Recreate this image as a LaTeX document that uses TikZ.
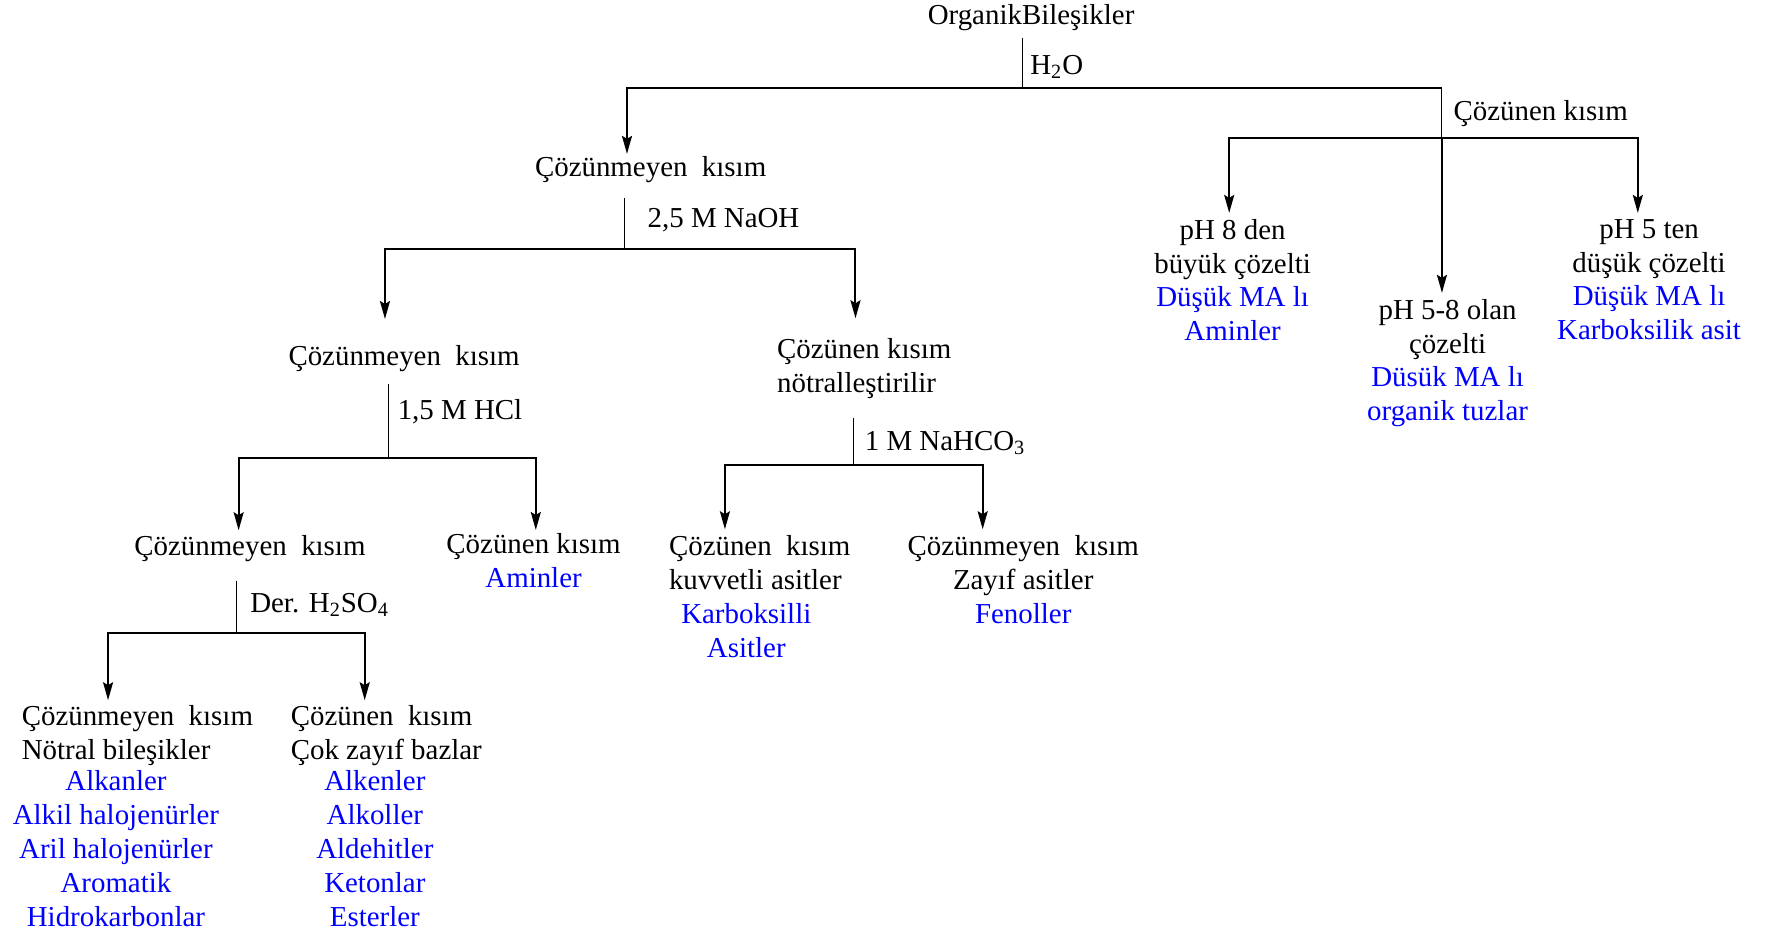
\documentclass[tikz,border=0pt]{standalone}
\usepackage{fontspec}
\setmainfont{Liberation Serif}
\usetikzlibrary{arrows.meta}
\newcommand{\treefont}{\fontsize{14.45pt}{16.9pt}\selectfont}
\tikzset{
  txt/.style={font=\treefont, inner sep=0pt, align=center},
  lbl/.style={font=\treefont, inner sep=0pt, anchor=base west},
  bar/.style={line width=1pt},
  stem/.style={line width=0.5pt},
  arr/.style={line width=1pt, -{Stealth[length=9pt,width=5pt,inset=1.5pt]}, shorten >=3pt},
}

\begin{document}
\begin{tikzpicture}[x=0.5628pt, y=-0.5628pt]
    \useasboundingbox (0,0) rectangle (1568,827);

    % Organik bilesikler
    \node[txt, anchor=north] (org) at (916,3.5) {OrganikBileşikler};
    \node[txt, anchor=north] (c1) at (578,138.5) {Çözünmeyen\ \ kısım};
    \node[lbl] (cz1) at (1291,107) {Çözünen kısım};

    % cozunen kisim, pH
    \node[txt, anchor=north] (ph8) at (1095,194.5) {pH 8 den\\büyük çözelti\\\textcolor{blue}{Düşük MA lı}\\\textcolor{blue}{Aminler}};
    \node[txt, anchor=north] (ph58) at (1286,265.5) {pH 5-8 olan\\çözelti\\\textcolor{blue}{Düsük MA lı}\\\textcolor{blue}{organik tuzlar}};
    \node[txt, anchor=north] (ph5) at (1465,194.5) {pH 5 ten\\düşük çözelti\\\textcolor{blue}{Düşük MA lı}\\\textcolor{blue}{Karboksilik asit}};

    % NaOH
    \node[txt, anchor=north] (c2) at (359,306.5) {Çözünmeyen\ \ kısım};
    \node[txt, align=left, anchor=north west] (cz2) at (690,300.5) {Çözünen kısım\\nötralleştirilir};

    % HCl
    \node[txt, anchor=north] (c3) at (222,475.5) {Çözünmeyen\ \ kısım};
    \node[txt, anchor=north] (cz3) at (474,473.5) {Çözünen kısım\\\textcolor{blue}{Aminler}};

    % NaHCO3
    \node[txt, align=left, anchor=north west] (cz4) at (594,475.5) {Çözünen\ \ kısım\\kuvvetli asitler};
    \node[txt, anchor=north, blue] (cz4b) at (663,535.5) {Karboksilli\\Asitler};
    \node[txt, anchor=north] (c4) at (909,475.5) {Çözünmeyen\ \ kısım\\Zayıf asitler\\\textcolor{blue}{Fenoller}};

    % H2SO4
    \node[txt, align=left, anchor=north west] (c5) at (19,626.5) {Çözünmeyen\ \ kısım\\Nötral bileşikler};
    \node[txt, anchor=north, blue] (c5b) at (103,684.5) {Alkanler\\Alkil halojenürler\\Aril halojenürler\\Aromatik\\Hidrokarbonlar};
    \node[txt, align=left, anchor=north west] (cz5) at (258,626.5) {Çözünen\ \ kısım\\Çok zayıf bazlar};
    \node[txt, anchor=north, blue] (cz5b) at (333,684.5) {Alkenler\\Alkoller\\Aldehitler\\Ketonlar\\Esterler};

    % H2O split
    \coordinate (j0) at (908,78);
    \coordinate (b0l) at (557,78);
    \coordinate (b0r) at (1281,78);
    \draw[stem, shorten <=3.7pt] (j0 |- org.south) -- (j0);
    \node[lbl] (h2o) at (915,66) {H\textsubscript{2}O};
    \draw[arr, shorten >=1pt] (j0) -- (b0l) -- (b0l |- c1.north);
    \draw[bar] (j0) -- (b0r);

    % pH split
    \coordinate (j1) at (1281,123);
    \coordinate (b1l) at (1092,123);
    \coordinate (b1r) at (1455,123);
    \draw[stem] (b0r) -- (j1);
    \draw[arr] (j1) -- (b1l) -- (b1l |- ph8.north);
    \draw[arr] (j1) -- (b1r) -- (b1r |- ph5.north);
    \draw[arr] (j1) -- (j1 |- ph58.north);

    % NaOH split
    \coordinate (j2) at (555,221);
    \coordinate (b2l) at (342,221);
    \coordinate (b2r) at (760,221);
    \draw[stem, shorten <=7.6pt] (j2 |- c1.south) -- (j2);
    \node[lbl] (naoh) at (575,202) {2,5 M NaOH};
    \draw[arr, shorten >=13pt] (j2) -- (b2l) -- (b2l |- c2.north);
    \draw[arr, shorten >=10pt] (j2) -- (b2r) -- (b2r |- cz2.north);

    % HCl split
    \coordinate (j3) at (345,407);
    \coordinate (b3l) at (212,407);
    \coordinate (b3r) at (476,407);
    \draw[stem, shorten <=5.9pt] (j3 |- c2.south) -- (j3);
    \node[lbl] (hcl) at (353,373) {1,5 M HCl};
    \draw[arr, shorten >=2.5pt] (j3) -- (b3l) -- (b3l |- c3.north);
    \draw[arr, shorten >=1.5pt] (j3) -- (b3r) -- (b3r |- cz3.north);

    % NaHCO3 split
    \coordinate (j4) at (758,413);
    \coordinate (b4l) at (644,413);
    \coordinate (b4r) at (873,413);
    \draw[stem, shorten <=9.6pt] (j4 |- cz2.south) -- (j4);
    \node[lbl] (nahco) at (768,400) {1 M NaHCO\textsubscript{3}};
    \draw[arr] (j4) -- (b4l) -- (b4l |- cz4.north);
    \draw[arr] (j4) -- (b4r) -- (b4r |- c4.north);

    % H2SO4 split
    \coordinate (j5) at (210,562);
    \coordinate (b5l) at (96,562);
    \coordinate (b5r) at (324,562);
    \draw[stem, shorten <=9.3pt] (j5 |- c3.south) -- (j5);
    \node[lbl] (hso) at (222,544) {Der. H\textsubscript{2}SO\textsubscript{4}};
    \draw[arr, shorten >=2.5pt] (j5) -- (b5l) -- (b5l |- c5.north);
    \draw[arr, shorten >=2.5pt] (j5) -- (b5r) -- (b5r |- cz5.north);
\end{tikzpicture}
\end{document}
